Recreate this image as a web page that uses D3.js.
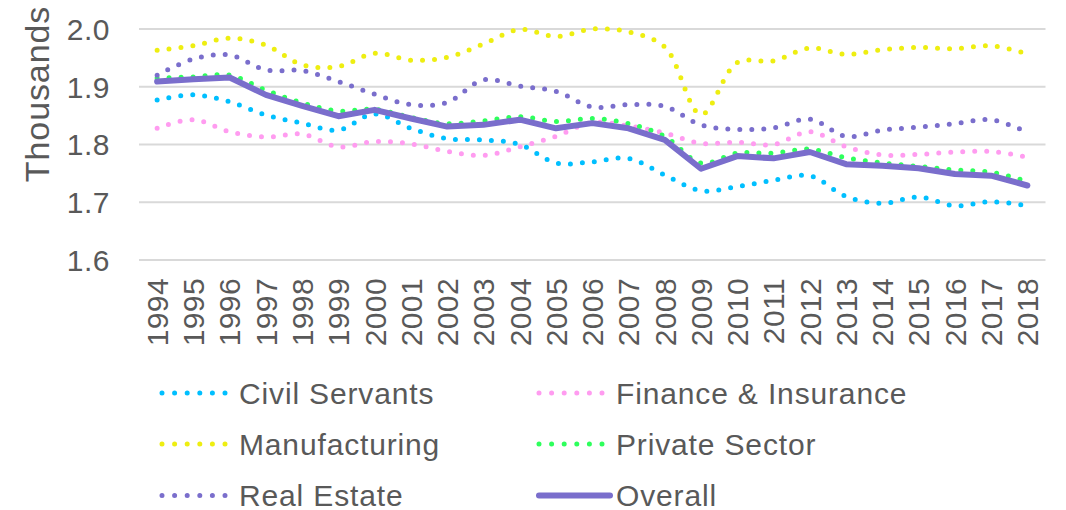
<!DOCTYPE html>
<html><head><meta charset="utf-8">
<script src="https://cdn.jsdelivr.net/npm/d3@7"></script>
<style>body{margin:0;background:#fff}svg{display:block}text{font-family:"Liberation Sans",Arial,sans-serif;fill:#595959}</style>
</head><body><svg id="c" width="1066" height="510"></svg>
<script>
const years = ["1994","1995","1996","1997","1998","1999","2000","2001","2002","2003","2004","2005","2006","2007","2008","2009","2010","2011","2012","2013","2014","2015","2016","2017","2018"];
const yTicks = [1.6, 1.7, 1.8, 1.9, 2.0];
const civilServants = [1.877,1.886,1.874,1.851,1.837,1.825,1.853,1.828,1.810,1.808,1.800,1.768,1.770,1.776,1.747,1.720,1.727,1.738,1.746,1.710,1.698,1.709,1.694,1.701,1.694];
const financeInsurance = [1.828,1.843,1.822,1.813,1.818,1.796,1.805,1.801,1.788,1.781,1.796,1.814,1.838,1.832,1.820,1.802,1.804,1.800,1.822,1.796,1.782,1.783,1.787,1.788,1.778];
const manufacturing = [1.963,1.971,1.984,1.972,1.938,1.935,1.958,1.946,1.951,1.974,1.999,1.987,2.000,1.995,1.969,1.852,1.942,1.945,1.967,1.956,1.964,1.968,1.966,1.971,1.957];
const privateSector = [1.915,1.917,1.920,1.894,1.872,1.858,1.861,1.847,1.836,1.841,1.848,1.840,1.845,1.836,1.814,1.768,1.785,1.785,1.792,1.777,1.768,1.762,1.756,1.752,1.736];
const realEstate = [1.920,1.948,1.955,1.929,1.928,1.909,1.887,1.869,1.873,1.912,1.901,1.892,1.865,1.869,1.866,1.834,1.826,1.829,1.844,1.814,1.825,1.830,1.836,1.843,1.821];
const overall = [1.909,1.913,1.916,1.886,1.867,1.849,1.860,1.845,1.831,1.834,1.843,1.828,1.837,1.828,1.808,1.758,1.780,1.776,1.787,1.766,1.763,1.759,1.749,1.746,1.729];
const seriesNames = ["Civil Servants","Finance & Insurance","Manufacturing","Private Sector","Real Estate","Overall"];

const series = [
  {name:seriesNames[0], values:civilServants, color:"#00BFFF", dotted:true},
  {name:seriesNames[1], values:financeInsurance, color:"#FF9CF0", dotted:true},
  {name:seriesNames[2], values:manufacturing, color:"#EEEE11", dotted:true},
  {name:seriesNames[3], values:privateSector, color:"#2EFF5C", dotted:true},
  {name:seriesNames[4], values:realEstate, color:"#7A6ECC", dotted:true},
  {name:seriesNames[5], values:overall, color:"#7A6ECC", dotted:false}
];

const svg = d3.select("#c");
const x = d3.scaleBand().domain(years).range([139, 1045.5]);
const y = d3.scaleLinear().domain([1.6, 2.0]).range([260, 29]);
const cx = d => x(d) + x.bandwidth()/2;

// gridlines
svg.append("g").selectAll("line").data(yTicks).join("line")
  .attr("x1", 139).attr("x2", 1045.5)
  .attr("y1", d => y(d)).attr("y2", d => y(d))
  .attr("stroke", "#d9d9d9").attr("stroke-width", 1.8);

// y tick labels
svg.append("g").selectAll("text").data(yTicks).join("text")
  .attr("x", 110).attr("y", d => y(d)).attr("dy", "0.36em")
  .attr("text-anchor", "end").style("font-size", "30px").style("letter-spacing", "0.5px")
  .text(d3.format(".1f"));

// axis title
svg.append("text").attr("transform", "translate(49,94) rotate(-90)")
  .attr("text-anchor", "middle").style("font-size", "34px").style("letter-spacing", "0.9px")
  .text("Thousands");

// x tick labels
svg.append("g").selectAll("text").data(years).join("text")
  .attr("transform", d => `translate(${cx(d)},278) rotate(-90)`)
  .attr("text-anchor", "end").attr("dy", "0.36em").style("font-size", "30px")
  .style("letter-spacing", "0.4px")
  .text(d => d);

const smooth = d3.line().x((d,i) => cx(years[i])).y(d => y(d)).curve(d3.curveCatmullRom.alpha(0.5));
const straight = d3.line().x((d,i) => cx(years[i])).y(d => y(d));

const g = svg.append("g");
series.forEach(s => {
  const p = g.append("path").datum(s.values)
    .attr("fill", "none").attr("stroke", s.color)
    .attr("stroke-linecap", "round").attr("stroke-linejoin", "round");
  if (s.dotted) {
    p.attr("d", smooth).attr("stroke-width", 5).attr("stroke-dasharray", "0 12");
  } else {
    p.attr("d", straight).attr("stroke-width", 6);
  }
});

// legend
const legCols = [{sx:162, ex:228, tx:239}, {sx:539, ex:610, tx:616}];
const legRows = [393, 444, 495.5];
series.forEach((s, i) => {
  const c = legCols[i % 2], ry = legRows[Math.floor(i / 2)];
  const lg = svg.append("g");
  lg.append("line").attr("x1", c.sx).attr("x2", c.ex).attr("y1", ry).attr("y2", ry)
    .attr("stroke", s.color).attr("stroke-linecap", "round")
    .attr("stroke-width", s.dotted ? 5 : 6)
    .attr("stroke-dasharray", s.dotted ? "0 12.6" : null);
  lg.append("text").attr("x", c.tx).attr("y", ry).attr("dy", "0.36em")
    .style("font-size", "30px").style("letter-spacing", "0.85px").text(s.name);
});
</script></body></html>
